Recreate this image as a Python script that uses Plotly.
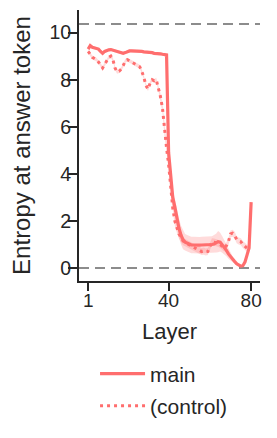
import plotly.graph_objects as go

layers = list(range(1, 81))
control_layers = list(range(1, 80))

main = [9.30, 9.45, 9.38, 9.35, 9.33, 9.30, 9.20, 9.12, 9.20, 9.25,
        9.27, 9.28, 9.25, 9.22, 9.20, 9.18, 9.12, 9.12, 9.15, 9.20,
        9.22, 9.22, 9.22, 9.22, 9.20, 9.20, 9.20, 9.18, 9.18, 9.17,
        9.15, 9.15, 9.12, 9.12, 9.10, 9.10, 9.08, 9.07, 9.05, 4.90,
        3.90, 3.00, 2.60, 2.10, 1.70, 1.40, 1.20, 1.10, 1.05, 1.00,
        0.98, 0.98, 0.97, 0.97, 0.97, 0.98, 0.98, 0.98, 0.99, 1.00,
        1.00, 1.02, 1.06, 1.12, 1.10, 1.00, 0.88, 0.75, 0.60, 0.48,
        0.38, 0.28, 0.18, 0.12, 0.08, 0.10, 0.25, 0.55, 0.85, 2.80]

main_err = [0.06, 0.06, 0.06, 0.06, 0.06, 0.06, 0.06, 0.06, 0.06, 0.06,
            0.06, 0.06, 0.06, 0.06, 0.06, 0.06, 0.06, 0.06, 0.06, 0.06,
            0.06, 0.06, 0.06, 0.06, 0.06, 0.06, 0.06, 0.06, 0.06, 0.06,
            0.06, 0.06, 0.06, 0.06, 0.06, 0.06, 0.06, 0.06, 0.08, 0.30,
            0.35, 0.35, 0.35, 0.35, 0.40, 0.40, 0.40, 0.35, 0.35, 0.35,
            0.35, 0.35, 0.35, 0.35, 0.35, 0.35, 0.35, 0.35, 0.35, 0.35,
            0.35, 0.38, 0.40, 0.45, 0.40, 0.35, 0.30, 0.25, 0.20, 0.15,
            0.12, 0.10, 0.10, 0.08, 0.06, 0.06, 0.08, 0.10, 0.10, 0.10]

control = [9.20, 9.05, 8.95, 8.90, 8.85, 8.75, 8.60, 8.50, 8.65, 8.80,
           8.95, 9.00, 8.85, 8.50, 8.33, 8.36, 8.45, 8.60, 8.80, 8.85,
           8.80, 8.72, 8.68, 8.64, 8.60, 8.55, 8.35, 8.10, 7.75, 7.60,
           7.85, 8.00, 7.95, 8.00, 7.65, 7.30, 6.80, 5.80, 5.10, 4.40,
           3.30, 2.55, 2.00, 1.70, 1.45, 1.30, 1.15, 1.08, 1.03, 0.98,
           0.95, 0.90, 0.85, 0.78, 0.74, 0.70, 0.72, 0.68, 0.70, 0.90,
           1.12, 1.10, 1.08, 1.05, 1.00, 0.90, 0.84, 0.95, 1.12, 1.45,
           1.48, 1.40, 1.20, 1.15, 1.12, 1.00, 0.90, 0.84, 0.80]

control_err = [0.08, 0.08, 0.08, 0.08, 0.08, 0.08, 0.08, 0.08, 0.08, 0.08,
               0.08, 0.08, 0.08, 0.08, 0.08, 0.08, 0.08, 0.08, 0.08, 0.08,
               0.08, 0.08, 0.08, 0.08, 0.08, 0.08, 0.08, 0.08, 0.08, 0.08,
               0.08, 0.08, 0.08, 0.08, 0.10, 0.15, 0.20, 0.20, 0.20, 0.20,
               0.20, 0.20, 0.20, 0.20, 0.20, 0.20, 0.18, 0.15, 0.15, 0.15,
               0.15, 0.15, 0.15, 0.15, 0.15, 0.15, 0.15, 0.15, 0.15, 0.15,
               0.15, 0.15, 0.15, 0.15, 0.15, 0.15, 0.15, 0.15, 0.15, 0.15,
               0.15, 0.15, 0.15, 0.15, 0.15, 0.15, 0.15, 0.15, 0.15]

reference_levels = [0.0, 10.37]   # min entropy and log(vocab size)
x_ticks = [1, 40, 80]
y_ticks = [0, 2, 4, 6, 8, 10]

COLOR = "#ff6e6e"
BAND = "rgba(255,110,110,0.25)"
TEXT = "#262626"
FONT = "Liberation Sans, Arial, sans-serif"

fig = go.Figure()


def add_band(x, y, err):
    upper = [v + e for v, e in zip(y, err)]
    lower = [v - e for v, e in zip(y, err)]
    fig.add_trace(go.Scatter(x=x, y=upper, mode="lines", line=dict(width=0),
                             hoverinfo="skip", showlegend=False))
    fig.add_trace(go.Scatter(x=x, y=lower, mode="lines", line=dict(width=0),
                             fill="tonexty", fillcolor=BAND,
                             hoverinfo="skip", showlegend=False))


add_band(control_layers, control, control_err)
add_band(layers, main, main_err)

fig.add_trace(go.Scatter(x=control_layers, y=control, mode="lines", name="(control)",
                         line=dict(color=COLOR, width=3, dash="3px,4px"),
                         legend="legend2"))
fig.add_trace(go.Scatter(x=layers, y=main, mode="lines", name="main",
                         line=dict(color=COLOR, width=3.2),
                         legend="legend"))

for lvl in reference_levels:
    fig.add_shape(type="line", xref="paper", x0=0, x1=1, yref="y", y0=lvl, y1=lvl,
                  line=dict(color="#8c8c8c", width=2, dash="10px,6px"), layer="below")

legend_style = dict(x=0.0886, xanchor="left", yanchor="middle",
                    font=dict(size=21, family=FONT, color=TEXT),
                    itemwidth=45, bgcolor="rgba(0,0,0,0)")

fig.update_layout(
    width=277, height=438,
    margin=dict(l=79, r=17, t=10, b=157),
    paper_bgcolor="white", plot_bgcolor="white",
    font=dict(family=FONT, color=TEXT, size=19),
    showlegend=True,
    legend=dict(y=-0.343, **legend_style),
    legend2=dict(y=-0.4612, **legend_style),
)

fig.update_xaxes(range=[-3.45, 84.3], tickvals=x_ticks, ticks="outside", ticklen=8,
                 tickwidth=1.8, tickcolor=TEXT, showline=True, linecolor=TEXT,
                 linewidth=1.8, showgrid=False, zeroline=False,
                 ticklabelstandoff=-7,
                 title=dict(text="Layer", font=dict(size=22), standoff=14),
                 tickfont=dict(size=19))
fig.update_yaxes(range=[-0.55, 10.96], tickvals=y_ticks, ticks="outside", ticklen=9,
                 tickwidth=1.8, tickcolor=TEXT, showline=True, linecolor=TEXT,
                 linewidth=1.8, showgrid=False, zeroline=False,
                 ticklabelstandoff=-7,
                 title=dict(text="Entropy at answer token", font=dict(size=24), standoff=12),
                 tickfont=dict(size=19.5))

fig.write_html("out.html", config={"displayModeBar": False},
               post_script="document.body.style.margin='0';document.body.style.overflow='hidden';")
